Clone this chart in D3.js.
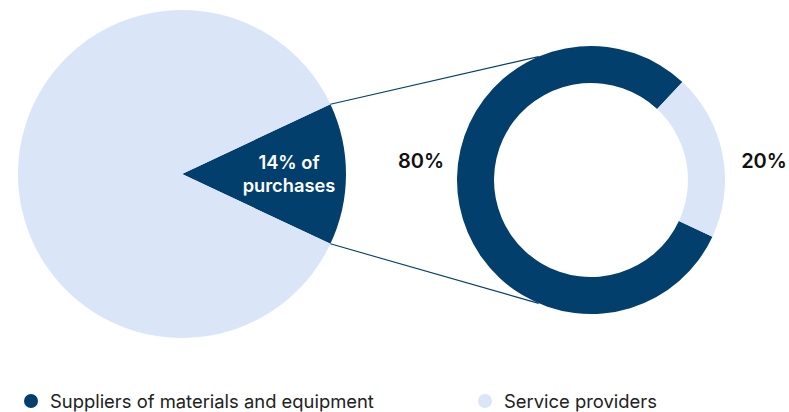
<!DOCTYPE html>
<html>
<head>
<meta charset="utf-8">
<script src="https://cdn.jsdelivr.net/npm/d3@7"></script>
<style>
  html, body { margin: 0; padding: 0; background: #fff; }
  svg { display: block; font-family: Inter, "Noto Sans", sans-serif; }
</style>
</head>
<body>
<svg id="chart"></svg>
<script>
// Data
const categories = ["Suppliers of materials and equipment", "Service providers"];
const purchaseShare = [14, 86];   // share of purchases (left pie)
const breakdown = [80, 20];       // breakdown of the 14% (right donut)
const pieLabel = ["14% of", "purchases"];

const width = 789;
const height = 412;
const colors = ["#023f6d", "#dae6f7"];

const svg = d3.select("#chart").attr("width", width).attr("height", height);

const deg = Math.PI / 180;

// Left pie, dark slice centred on 3 o'clock
const pieCx = 182, pieCy = 174, pieR = 164;
const pieStart = 90 * deg - (purchaseShare[0] / 100) * Math.PI;
const pieGen = d3.pie().sort(null).startAngle(pieStart).endAngle(pieStart + 2 * Math.PI);
const pieArcs = pieGen(purchaseShare);
const pieArc = d3.arc().innerRadius(0).outerRadius(pieR);

// Right donut
const dCx = 591, dCy = 180, dOuter = 134, dInner = 97;
const donutStart = 115 * deg;
const donutGen = d3.pie().sort(null).startAngle(donutStart).endAngle(donutStart + 2 * Math.PI);
const donutArcs = donutGen(breakdown);
const donutArc = d3.arc().innerRadius(dInner).outerRadius(dOuter);

// Connector lines from the slice edge to the donut
const polar = (cx, cy, r, a) => [cx + r * Math.sin(a), cy - r * Math.cos(a)];
const slice = pieArcs[0];
const connectors = [
  [polar(pieCx, pieCy, pieR, slice.startAngle), polar(dCx, dCy, dOuter, -23 * deg)],
  [polar(pieCx, pieCy, pieR, slice.endAngle), polar(dCx, dCy, dOuter, 203 * deg)],
];

const gPie = svg.append("g").attr("transform", `translate(${pieCx},${pieCy})`);
gPie.selectAll("path")
  .data(pieArcs)
  .join("path")
  .attr("d", pieArc)
  .attr("fill", (d, i) => colors[i]);

svg.selectAll(".connector")
  .data(connectors)
  .join("line")
  .attr("class", "connector")
  .attr("x1", (d) => d[0][0])
  .attr("y1", (d) => d[0][1])
  .attr("x2", (d) => d[1][0])
  .attr("y2", (d) => d[1][1])
  .attr("stroke", colors[0])
  .attr("stroke-width", 1.1);

const gDonut = svg.append("g").attr("transform", `translate(${dCx},${dCy})`);
gDonut.selectAll("path")
  .data(donutArcs)
  .join("path")
  .attr("d", donutArc)
  .attr("fill", (d, i) => colors[i]);

// Pie label
svg.append("text")
  .attr("y", 169)
  .attr("text-anchor", "middle")
  .attr("fill", "#fff")
  .attr("font-size", 18.3)
  .attr("font-weight", 600)
  .selectAll("tspan")
  .data(pieLabel)
  .join("tspan")
  .attr("x", 289)
  .attr("dy", (d, i) => (i === 0 ? 0 : 23))
  .text((d) => d);

// Donut percentages
const pctX = [421, 764];
svg.selectAll(".pct")
  .data(breakdown)
  .join("text")
  .attr("class", "pct")
  .attr("x", (d, i) => pctX[i])
  .attr("y", 168)
  .attr("text-anchor", "middle")
  .attr("font-size", 20)
  .attr("font-weight", 600)
  .attr("fill", "#111")
  .text((d) => d + "%");

// Legend
const legendX = [31, 485];
const legend = svg.selectAll(".legend")
  .data(categories)
  .join("g")
  .attr("class", "legend")
  .attr("transform", (d, i) => `translate(${legendX[i]},401)`);
legend.append("circle")
  .attr("r", 7)
  .attr("fill", (d, i) => colors[i]);
legend.append("text")
  .attr("x", 19)
  .attr("y", 7)
  .attr("font-size", 18.4)
  .attr("fill", "#222")
  .text((d) => d);
</script>
</body>
</html>
